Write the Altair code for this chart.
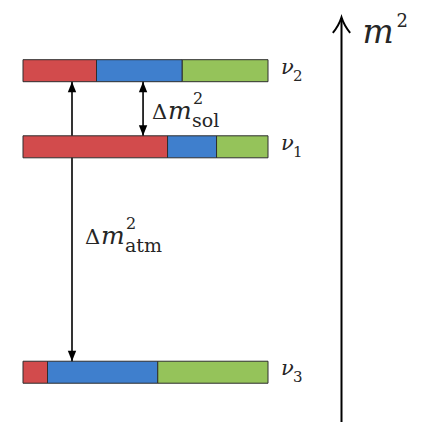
import altair as alt
import pandas as pd

# ---------------- data ----------------
states = ["1", "2", "3"]                 # mass eigenstates ν1, ν2, ν3
levels = [2.31, 3.09, 0.0]               # schematic m² level (arbitrary units)
flavors = ["e", "mu", "tau"]
flavor_colors = ["#d24b4c", "#3f7fcd", "#95c35a"]
frac_e = [0.59, 0.30, 0.10]              # flavour content of each eigenstate
frac_mu = [0.20, 0.35, 0.45]
frac_tau = [0.21, 0.35, 0.45]
splittings = ["sol", "atm"]
split_upper = ["2", "2"]
split_lower = ["1", "3"]

# ---------------- tables built from the arrays ----------------
rows = []
for s, lev, fe, fm, ft in zip(states, levels, frac_e, frac_mu, frac_tau):
    start = 0.0
    for fl, f in zip(flavors, [fe, fm, ft]):
        rows.append({"state": s, "level": lev, "flavor": fl,
                     "x0": start, "x1": start + f})
        start += f
bars_df = pd.DataFrame(rows)
lev_of = dict(zip(states, levels))
split_df = pd.DataFrame({
    "name": splittings,
    "upper": [lev_of[u] for u in split_upper],
    "lower": [lev_of[l] for l in split_lower],
})
split_df["mid"] = (split_df["upper"] + split_df["lower"]) / 2
state_df = pd.DataFrame({"state": states, "level": levels})

# ---------------- layout ----------------
W, H = 406, 414
X_LO = -15 / 245
X_HI = X_LO + W / 245
Y_LO, Y_HI = -0.51, 3.63
XS = alt.Scale(domain=[X_LO, X_HI], nice=False, zero=False)
YS = alt.Scale(domain=[Y_LO, Y_HI], nice=False, zero=False)
BAR_HALF = 11
AXIS_AT = 1.3

INK = "#262626"
SERIF = "DejaVu Serif"


def xd(v):
    return alt.X(datum=v, type="quantitative", scale=XS, axis=None)


def yd(v):
    return alt.Y(datum=v, type="quantitative", scale=YS, axis=None)


def yf(field):
    return alt.Y(field, type="quantitative", scale=YS, axis=None)


def label(data, x, y, text, dx, dy, size, style="normal"):
    return alt.Chart(data).mark_text(
        align="left", baseline="alphabetic", dx=dx, dy=dy, fontSize=size,
        font=SERIF, fontStyle=style, color=INK
    ).encode(x=x, y=y, text=text)


HEAD_UP = "M0,-1L-0.8,1L0.8,1Z"
HEAD_DOWN = "M0,1L-0.8,-1L0.8,-1Z"
HEAD_SIZE = 110
HEAD_HALF = 110 ** 0.5 / 2


def arrow_layers(name, xpos):
    d = alt.Chart(split_df).transform_filter(alt.datum.name == name)
    line = d.mark_rule(color="black", strokeWidth=1.6).encode(
        x=xd(xpos), y=yf("upper"), y2="lower")
    up = d.mark_point(shape=HEAD_UP, filled=True, color="black", opacity=1,
                      size=HEAD_SIZE, yOffset=BAR_HALF + HEAD_HALF).encode(
        x=xd(xpos), y=yf("upper"))
    down = d.mark_point(shape=HEAD_DOWN, filled=True, color="black", opacity=1,
                        size=HEAD_SIZE, yOffset=-(BAR_HALF + HEAD_HALF)).encode(
        x=xd(xpos), y=yf("lower"))
    return line, up, down


sol_line, sol_up, sol_down = arrow_layers("sol", 0.49)
atm_line, atm_up, atm_down = arrow_layers("atm", 0.20)

bars = alt.Chart(bars_df).mark_bar(
    orient="horizontal", size=2 * BAR_HALF, stroke="#2e2e2e", strokeWidth=1
).encode(
    x=alt.X("x0:Q", scale=XS, axis=None),
    x2="x1:Q",
    y=yf("level"),
    color=alt.Color("flavor:N", scale=alt.Scale(domain=flavors, range=flavor_colors),
                    legend=None),
)

# eigenstate labels
nu_glyph = label(state_df, xd(1.0), yf("level"), alt.value("ν"), 13, 3, 21, "italic")
nu_index = label(state_df, xd(1.0), yf("level"), alt.Text("state:N"), 25, 10, 15)


def dm_label(name, xpos, dx0, dy0):
    d = split_df[split_df["name"] == name]
    x = xd(xpos)
    y = yf("mid")
    return [
        label(d, x, y, alt.value("Δ"), dx0, dy0, 21),
        label(d, x, y, alt.value("m"), dx0 + 16, dy0, 25, "italic"),
        label(d, x, y, alt.value("2"), dx0 + 41, dy0 - 15, 16),
        label(d, x, y, alt.Text("name:N"), dx0 + 40, dy0 + 8, 19),
    ]


sol_text = dm_label("sol", 0.49, 9, 10)
atm_text = dm_label("atm", 0.20, 13, 23)

# m² axis: a rule through the y scale with an arrow head and label
top_df = pd.DataFrame({"k": [0]})
m_axis = alt.Chart(top_df).mark_rule(color="black", strokeWidth=2).encode(
    x=xd(AXIS_AT), y=yd(Y_HI), y2=alt.Y2(datum=Y_LO))
CHEVRON = "M-1,0.9Q-0.3,0.05,0,-0.9Q0.3,0.05,1,0.9"
head = alt.Chart(top_df).mark_point(
    shape=CHEVRON, filled=False, stroke="black", strokeWidth=2, opacity=1,
    size=300, yOffset=7
).encode(x=xd(AXIS_AT), y=yd(Y_HI))
m_lab = label(top_df, xd(AXIS_AT), yd(Y_HI), alt.value("m"), 21, 25, 33, "italic")
sq_lab = label(top_df, xd(AXIS_AT), yd(Y_HI), alt.value("2"), 55, 9, 18)

chart = alt.layer(
    sol_line, atm_line, m_axis, bars, sol_up, sol_down, atm_up, atm_down,
    nu_glyph, nu_index, *sol_text, *atm_text, head, m_lab, sq_lab
).properties(
    width=W, height=H, autosize="none",
    padding={"top": 5, "left": 0, "right": 0, "bottom": 0},
).configure_view(strokeWidth=0)

chart.save("out.html", embed_options={"renderer": "svg", "actions": False})
